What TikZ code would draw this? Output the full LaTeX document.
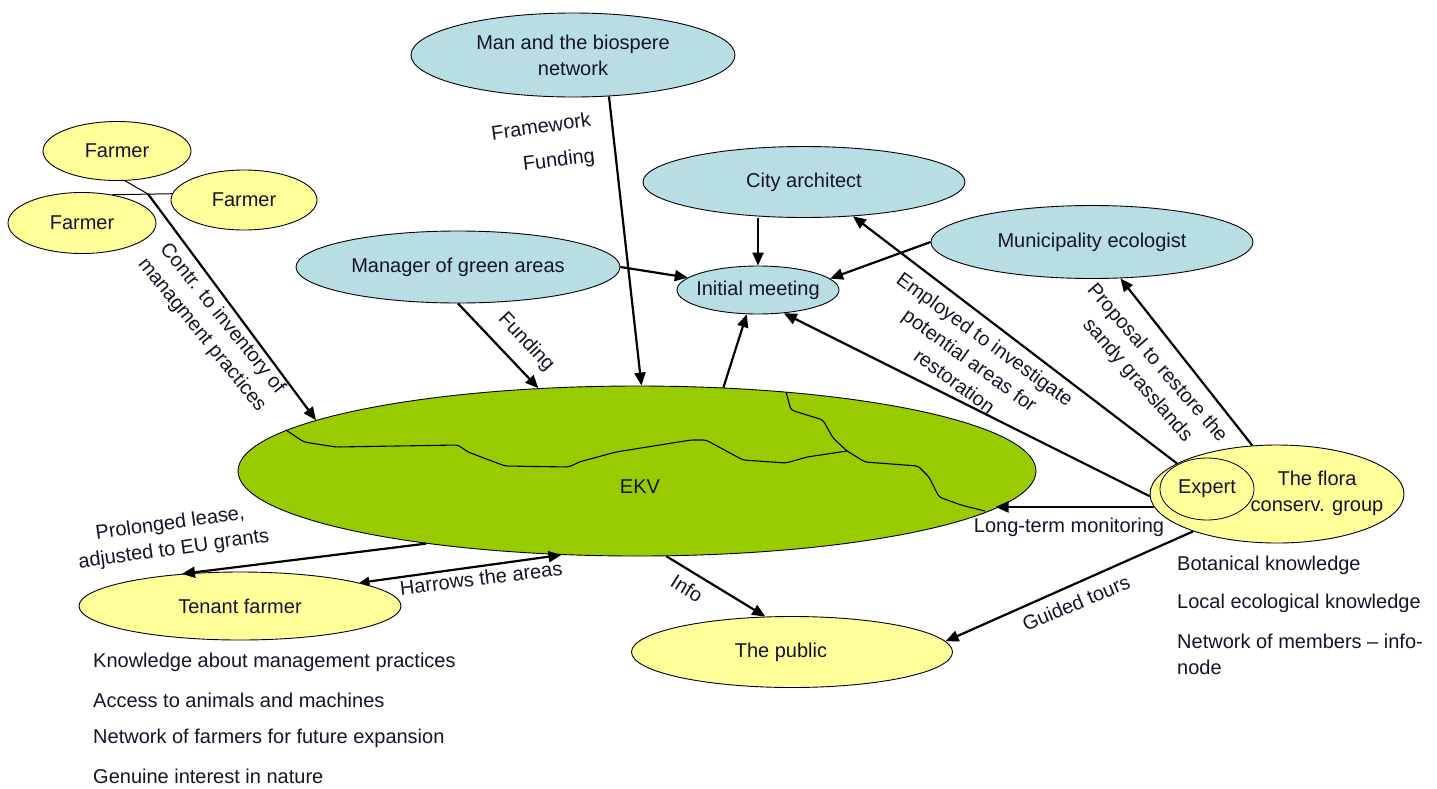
\documentclass[tikz,border=0pt]{standalone}
\usepackage{fontspec}
\setmainfont{Liberation Sans}
\usetikzlibrary{shapes.geometric,arrows.meta}
\definecolor{blu}{RGB}{184,222,227}
\definecolor{yel}{RGB}{255,255,153}
\definecolor{grn}{RGB}{153,204,0}
\definecolor{txt}{RGB}{20,20,40}
\newcommand\zb[1]{\makebox[0pt]{#1}}
\begin{document}
\begin{tikzpicture}[x=1pt,y=-1pt,
  font=\fontsize{20}{26}\selectfont, text=txt,
  ell/.style={ellipse, draw=black, line width=0.9pt, inner sep=0pt, align=center},
  bl/.style={ell, fill=blu},
  yl/.style={ell, fill=yel},
  arr/.style={line width=2.2pt, -{Triangle[length=13pt,width=11pt]}},
  arrtwo/.style={line width=2.2pt, {Triangle[length=10pt,width=9pt]}-{Triangle[length=13pt,width=11pt]}},
  thinline/.style={line width=1pt},
  border/.style={line width=1.1pt, rounded corners=3pt},
  lab/.style={inner sep=0pt, align=center},
  lst/.style={inner sep=0pt, anchor=west},
]
\useasboundingbox (0,0) rectangle (1437,788);

% ellipses
\node[bl, minimum width=324pt, minimum height=84pt] (man) at (573,55) {\zb{Man and the biospere}\\\zb{network}};
\node[bl, minimum width=322pt, minimum height=71pt] (city) at (804,182) {\zb{City architect}};
\node[bl, minimum width=322pt, minimum height=73pt] (muni) at (1092,242) {\zb{Municipality ecologist}};
\node[bl, minimum width=324pt, minimum height=72pt] (mgr) at (458,267) {\zb{Manager of green areas}};
\node[bl, minimum width=162pt, minimum height=48pt] (init) at (758,290) {\zb{Initial meeting}};

\node[yl, minimum width=148pt, minimum height=59pt] (fT) at (117,151) {\zb{Farmer}};
\node[yl, minimum width=146pt, minimum height=60pt] (fM) at (244,200) {\zb{Farmer}};
\node[yl, minimum width=148pt, minimum height=61pt] (fL) at (82,223) {\zb{Farmer}};

\node[ell, fill=grn, minimum width=798pt, minimum height=170pt] (ekv) at (637,471) {};
\node[lab] (ekvt) at (640,487) {EKV};

\node[yl, minimum width=322pt, minimum height=68pt] (ten) at (240,606) {\zb{Tenant farmer}};
\node[yl, minimum width=321pt, minimum height=71pt] (pub) at (792,652) {\zb{\hspace{-22pt}The public}};

\node[yl, minimum width=254pt, minimum height=98pt] (flora) at (1277,494) {};
\node[lab] (florat) at (1317,493) {The flora\\conserv. group};
\node[ell, line width=0.8pt, minimum width=94pt, minimum height=62pt] (expert) at (1207,489) {\zb{Expert}};

% borders inside EKV
\draw[border] (286,430) -- (304,442) -- (336,447) -- (458,445) -- (468,452) -- (505,466) -- (569,467) -- (579,462) -- (616,452) -- (691,440) -- (706,440) -- (743,460) -- (786,463) -- (807,457) -- (847,451);
\draw[border] (786,392) -- (791,410) -- (823,420) -- (833,438) -- (847,451) -- (865,462) -- (918,466) -- (929,477) -- (939,497) -- (961,505) -- (985,511);

% farmer links
\coordinate (J) at (148,194);
\draw[thinline] (fL.43) -- (fM.175);
\draw[thinline] (fT.-75) -- (J);
\draw[arr] (J) -- (ekv.171);

% connectors
\draw[arr] (man.-49) -- (ekv.87);
\draw[arr] (mgr.east) -- (init.170);
\draw[arr] (init.north |- city.south) -- (init.north);
\draw[arr] (mgr.south) -- (ekv.140);
\draw[arr] (ekv.44) -- (init.-115);
\draw[arr] (muni.west) -- (init.9);
\draw[arr] (flora.181) -- (init.-42);
\draw[arr] (flora.163) -- (city.-35);
\draw[arr] (flora.117.5) -- (muni.-52);
\draw[arr] (flora.186.6) -- (flora.186.6 -| ekv.-6.4);
\draw[arr] (ekv.-161.3) -- (ten.151.8);
\draw[arrtwo] (ten.11.3) -- (ekv.-132.6);
\draw[arr] (ekv.-71.7) -- (pub.127.6);
\draw[arr] (flora.204.5) -- (pub.4);

% labels
\node[lab, rotate=8] (lfw) at (541,126) {Framework};
\node[lab, rotate=7] (lfu) at (559,161) {Funding};
\node[lab, rotate=-47] (lfu2) at (526,342) {Funding};
\node[lab, rotate=-51] (lcon) at (212,327) {Contr. to inventory of\\managment practices};
\node[lab, rotate=-36] (lemp) at (970,360) {Employed to investigate\\potential areas for\\restoration};
\node[lab, rotate=-49] (lpro) at (1147,372) {Proposal to restore the\\sandy grasslands};
\node[lab, rotate=8] (lpl) at (172,537) {Prolonged lease,\\adjusted to EU grants};
\node[lab, rotate=7] (lhar) at (481,578) {Harrows the areas};
\node[lab, rotate=-32] (linf) at (687,588) {Info};
\node[lab] (llt) at (1069,527) {Long-term monitoring};
\node[lab, rotate=23] (lgt) at (1076,603) {Guided tours};

% lists
\node[lst] (b1) at (1177,565) {Botanical knowledge};
\node[lst] (b2) at (1177,603) {Local ecological knowledge};
\node[lst] (b3) at (1177,641) {Network of members – info-};
\node[lst] (b4) at (1177,667) {node};

\node[lst] (t1) at (93,662) {Knowledge about management practices};
\node[lst] (t2) at (93,700) {Access to animals and machines};
\node[lst] (t3) at (93,738) {Network of farmers for future expansion};
\node[lst] (t4) at (93,776) {Genuine interest in nature};
\end{tikzpicture}
\end{document}
